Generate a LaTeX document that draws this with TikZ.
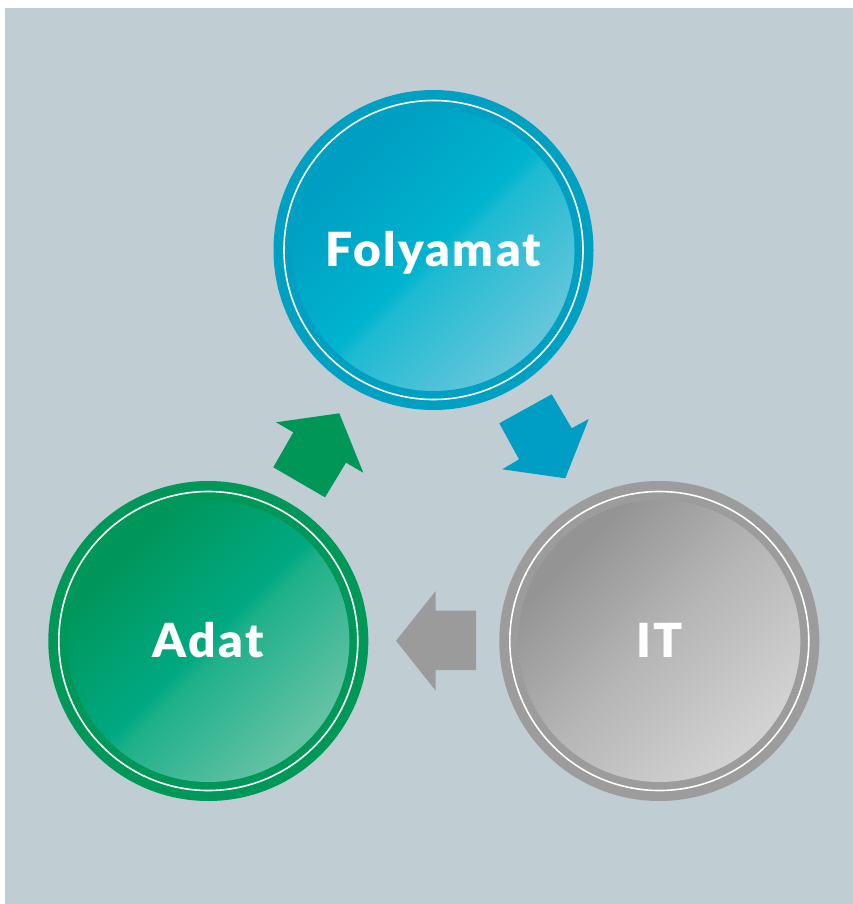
\documentclass[tikz,border=0pt]{standalone}
\usepackage{fontspec}
\setmainfont{Lato}
\newfontfamily\heavyfont[FakeStretch=1.02, LetterSpace=5]{Lato Black}
\definecolor{bg}{RGB}{192,205,211}
\definecolor{bluering}{RGB}{0,160,195}
\definecolor{blueA}{RGB}{0,158,194}
\definecolor{blueB}{RGB}{0,180,207}
\definecolor{blueC}{RGB}{30,186,210}
\definecolor{blueD}{RGB}{100,198,218}
\definecolor{greenring}{RGB}{0,152,88}
\definecolor{greenA}{RGB}{0,150,90}
\definecolor{greenB}{RGB}{0,169,130}
\definecolor{greenC}{RGB}{30,176,138}
\definecolor{greenD}{RGB}{100,194,164}
\definecolor{grayring}{RGB}{156,156,156}
\definecolor{grayA}{RGB}{148,148,148}
\definecolor{grayB}{RGB}{182,182,182}
\definecolor{grayD}{RGB}{210,210,210}
\definecolor{bluearrow}{RGB}{0,158,196}
\definecolor{greenarrow}{RGB}{0,150,88}
\definecolor{grayarrow}{RGB}{155,155,155}
\pgfdeclarehorizontalshading{blueshade}{100bp}{color(0bp)=(blueA); color(28bp)=(blueA); color(50bp)=(blueB); color(53bp)=(blueC); color(74bp)=(blueD); color(100bp)=(blueD)}
\pgfdeclarehorizontalshading{greenshade}{100bp}{color(0bp)=(greenA); color(28bp)=(greenA); color(50bp)=(greenB); color(53bp)=(greenC); color(74bp)=(greenD); color(100bp)=(greenD)}
\pgfdeclarehorizontalshading{grayshade}{100bp}{color(0bp)=(grayA); color(28bp)=(grayA); color(50bp)=(grayB); color(74bp)=(grayD); color(100bp)=(grayD)}
\tikzset{
  lbl/.style={text=white, font=\heavyfont\fontsize{47}{50}\selectfont, inner sep=0pt, anchor=base},
  blockarrow/.style={draw=none}
}
\newcommand{\mybubble}[6]{%
  \fill[#4] (#2,#3) circle (160pt);
  \shade[shading=#5, shading angle=-45] (#2,#3) circle (141pt);
  \draw[white, line width=1.6pt] (#2,#3) circle (149.5pt);
  \node[lbl] (#1) at (#2,#3+16) {#6};}
\begin{document}
\begin{tikzpicture}[x=1pt,y=-1pt]
\useasboundingbox (0,0) rectangle (853,904);
\fill[bg] (5,8) rectangle (853,904);
\mybubble{fol}{433.5}{250}{bluering}{blueshade}{Folyamat}
\mybubble{adat}{208.3}{641}{greenring}{greenshade}{Adat}
\mybubble{it}{659.3}{641}{grayring}{grayshade}{IT}
% arrows
\fill[greenarrow, blockarrow] (339.3,413.3) -- (363.3,472.7) -- (346,462.7) -- (325,497.3) -- (273.3,467.3) -- (293.3,432.3) -- (276,422.3) -- cycle;
\fill[bluearrow, blockarrow] (565.3,478.3) -- (502.3,469.3) -- (519,459.3) -- (499.3,423.3) -- (551.7,394.3) -- (571.7,428.3) -- (588.7,419) -- cycle;
\fill[grayarrow, blockarrow] (396,640.7) -- (435.7,591) -- (435.7,610.7) -- (476,610.7) -- (476,670) -- (435.7,670) -- (435.7,690.7) -- cycle;
\end{tikzpicture}
\end{document}
